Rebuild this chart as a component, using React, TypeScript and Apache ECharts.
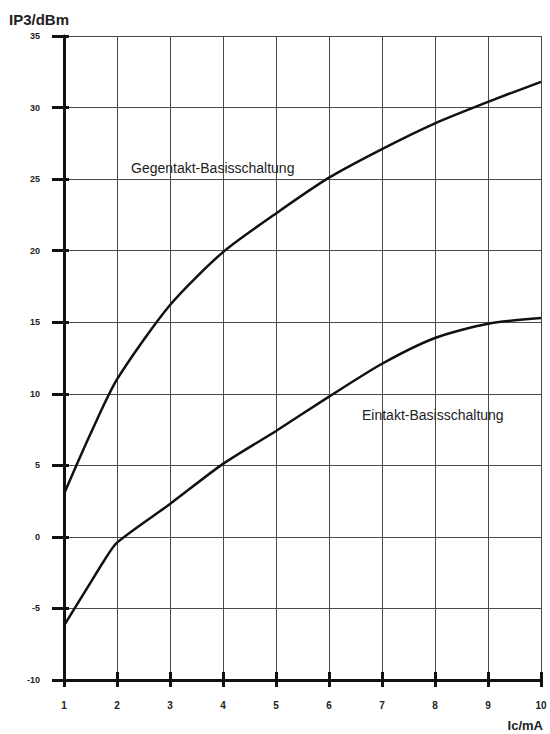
import React, { useEffect, useRef } from "react";
import * as echarts from "echarts";

const ic = [1, 1.5, 2, 3, 4, 5, 6, 7, 8, 9, 10];
const gegentakt = [3.0, 7.2, 11.0, 16.2, 19.9, 22.6, 25.1, 27.1, 28.9, 30.4, 31.8];
const icEintakt = [1, 1.5, 1.75, 2, 3, 4, 5, 6, 7, 8, 9, 10];
const eintakt = [-6.2, -3.2, -1.7, -0.4, 2.3, 5.1, 7.4, 9.8, 12.1, 13.9, 14.9, 15.3];

const yTitle = "IP3/dBm";
const xTitle = "Ic/mA";
const labelGegentakt = "Gegentakt-Basisschaltung";
const labelEintakt = "Eintakt-Basisschaltung";

const FONT = "'Liberation Sans', Arial, sans-serif";

export default function App() {
  const ref = useRef<HTMLDivElement>(null);
  useEffect(() => {
    document.body.style.margin = "0";
    if (!ref.current) return;
    const chart = echarts.init(ref.current, null, { renderer: "svg" });
    const axisColor = "#111";
    const gridColor = "#4a4a4a";
    chart.setOption({
      animation: false,
      backgroundColor: "#ffffff",
      grid: { left: 64, right: 9, top: 36, bottom: 54, containLabel: false },
      xAxis: [
        {
          type: "value",
          min: 1,
          max: 10,
          interval: 1,
          position: "bottom",
          axisLine: { show: true, onZero: false, lineStyle: { color: axisColor, width: 3 } },
          axisTick: { show: true, length: 7, lineStyle: { color: axisColor, width: 3 } },
          axisLabel: { margin: 20, fontSize: 10, fontWeight: "bold", color: "#222", fontFamily: FONT },
          splitLine: { show: true, lineStyle: { color: gridColor, width: 1 } },
        },
        {
          type: "value",
          min: 1,
          max: 10,
          interval: 1,
          position: "bottom",
          axisLine: { show: false, onZero: false },
          axisTick: { show: true, inside: true, length: 8, lineStyle: { color: axisColor, width: 3 } },
          axisLabel: { show: false },
          splitLine: { show: false },
        },
      ],
      yAxis: [
        {
          type: "value",
          min: -10,
          max: 35,
          interval: 5,
          position: "left",
          axisLine: { show: true, onZero: false, lineStyle: { color: axisColor, width: 3 } },
          axisTick: { show: true, length: 12, lineStyle: { color: axisColor, width: 3 } },
          axisLabel: { margin: 24, fontSize: 9, fontWeight: "bold", color: "#222", fontFamily: FONT },
          splitLine: { show: true, lineStyle: { color: gridColor, width: 1 } },
        },
        {
          type: "value",
          min: -10,
          max: 35,
          interval: 5,
          position: "left",
          axisLine: { show: false, onZero: false },
          axisTick: { show: true, inside: true, length: 5, lineStyle: { color: axisColor, width: 3 } },
          axisLabel: { show: false },
          splitLine: { show: false },
        },
      ],
      series: [
        {
          name: labelGegentakt,
          type: "line",
          xAxisIndex: 0,
          yAxisIndex: 0,
          data: ic.map((x, i) => [x, gegentakt[i]]),
          showSymbol: false,
          symbol: "none",
          smooth: 0.25,
          lineStyle: { color: "#111", width: 2.5 },
          z: 5,
        },
        {
          name: labelEintakt,
          type: "line",
          xAxisIndex: 0,
          yAxisIndex: 0,
          data: icEintakt.map((x, i) => [x, eintakt[i]]),
          showSymbol: false,
          symbol: "none",
          smooth: 0.25,
          lineStyle: { color: "#111", width: 2.5 },
          z: 5,
        },
      ],
      graphic: [
        {
          type: "text",
          left: 9,
          top: 12,
          style: { text: yTitle, fontSize: 15, fontWeight: "bold", fill: "#222", fontFamily: FONT },
        },
        {
          type: "text",
          x: 543,
          y: 725,
          style: {
            text: xTitle,
            fontSize: 13,
            fontWeight: "bold",
            fill: "#222",
            fontFamily: FONT,
            align: "right",
            verticalAlign: "middle",
          },
        },
        {
          type: "text",
          x: 131,
          y: 168,
          z: 10,
          style: {
            text: labelGegentakt,
            fontSize: 14,
            fill: "#222",
            fontFamily: FONT,
            verticalAlign: "middle",
          },
        },
        {
          type: "text",
          x: 362,
          y: 415,
          z: 10,
          style: {
            text: labelEintakt,
            fontSize: 14,
            fill: "#222",
            fontFamily: FONT,
            verticalAlign: "middle",
          },
        },
      ],
    });
    return () => chart.dispose();
  }, []);
  return <div ref={ref} style={{ width: 550, height: 734 }} />;
}
